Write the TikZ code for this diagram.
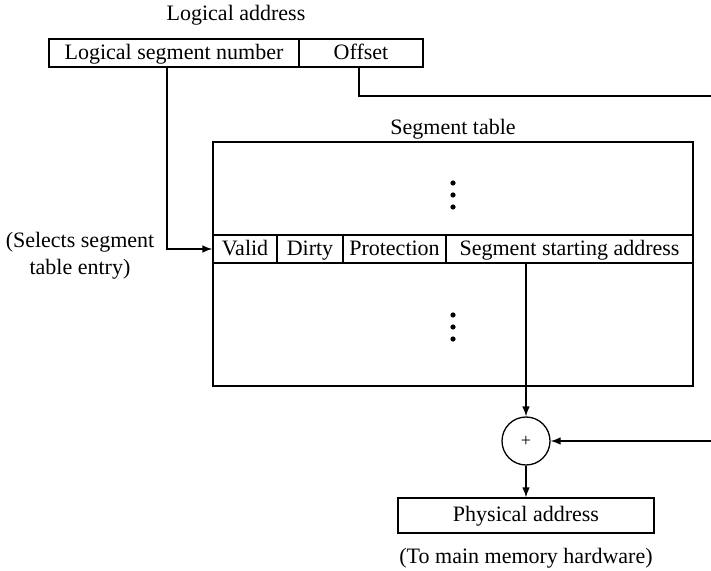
\documentclass[tikz,border=0pt]{standalone}
\usepackage{fontspec}
\setmainfont{Liberation Serif}
\usetikzlibrary{arrows.meta}
\begin{document}
\begin{tikzpicture}[x=0.5pt,y=-0.5pt,line width=0.65pt,
  txt/.style={font=\fontsize{11}{13.5}\selectfont,inner sep=0pt},
  cell/.style={draw,txt,minimum height=14pt,text height=8.1pt,text depth=1.9pt},
  arr/.style={-{Latex[length=5pt,width=3.8pt]}},
  dotmark/.style={fill=black}]
\useasboundingbox (0,0) rectangle (711,571);
% logical address
\node[txt] (lalabel) at (236,15) {Logical address};
\node[cell,minimum width=125pt] (lsn) at (174,53) {Logical segment number};
\node[cell,minimum width=62pt] (off) at (361,53) {Offset};
% segment table
\node[txt] (stlabel) at (453,129) {Segment table};
\node[draw,minimum width=240pt,minimum height=122pt,inner sep=0pt] (table) at (453,264) {};
\node[cell,minimum width=32pt] (valid) at (245,249) {Valid};
\node[cell,minimum width=33pt] (dirty) at (310,249) {Dirty};
\node[cell,minimum width=51.5pt] (prot) at (394.5,249) {Protection};
\node[cell,minimum width=123.5pt] (ssa) at (569.5,249) {Segment starting address};
\foreach \yy in {183,195,207,315,327,339}
  \fill[dotmark] (453,\yy) circle[radius=1.3pt];
% selects label
\node[txt,align=center] (sel) at (80,256) {(Selects segment\\table entry)};
% adder and physical address
\node[draw,circle,minimum size=24pt,inner sep=0pt,font=\fontsize{9}{10}\selectfont] (plus) at (526,441) {+};
\node[cell,minimum width=128pt,minimum height=17.5pt] (phys) at (526,515.5) {Physical address};
\node[txt] (tomem) at (526,558) {(To main memory hardware)};
% connectors
\coordinate (offR) at (711,96);
\coordinate (plusR) at (711,441);
\draw[arr] ([xshift=-3.5pt]lsn.south) |- (valid.west);
\draw ([xshift=-1pt]off.south) |- (offR);
\draw[arr] (plusR) -- (plus.east);
\draw[arr] (plus.north |- ssa.south) -- (plus.north);
\draw[arr] (plus.south) -- (phys.north);
\end{tikzpicture}
\end{document}
